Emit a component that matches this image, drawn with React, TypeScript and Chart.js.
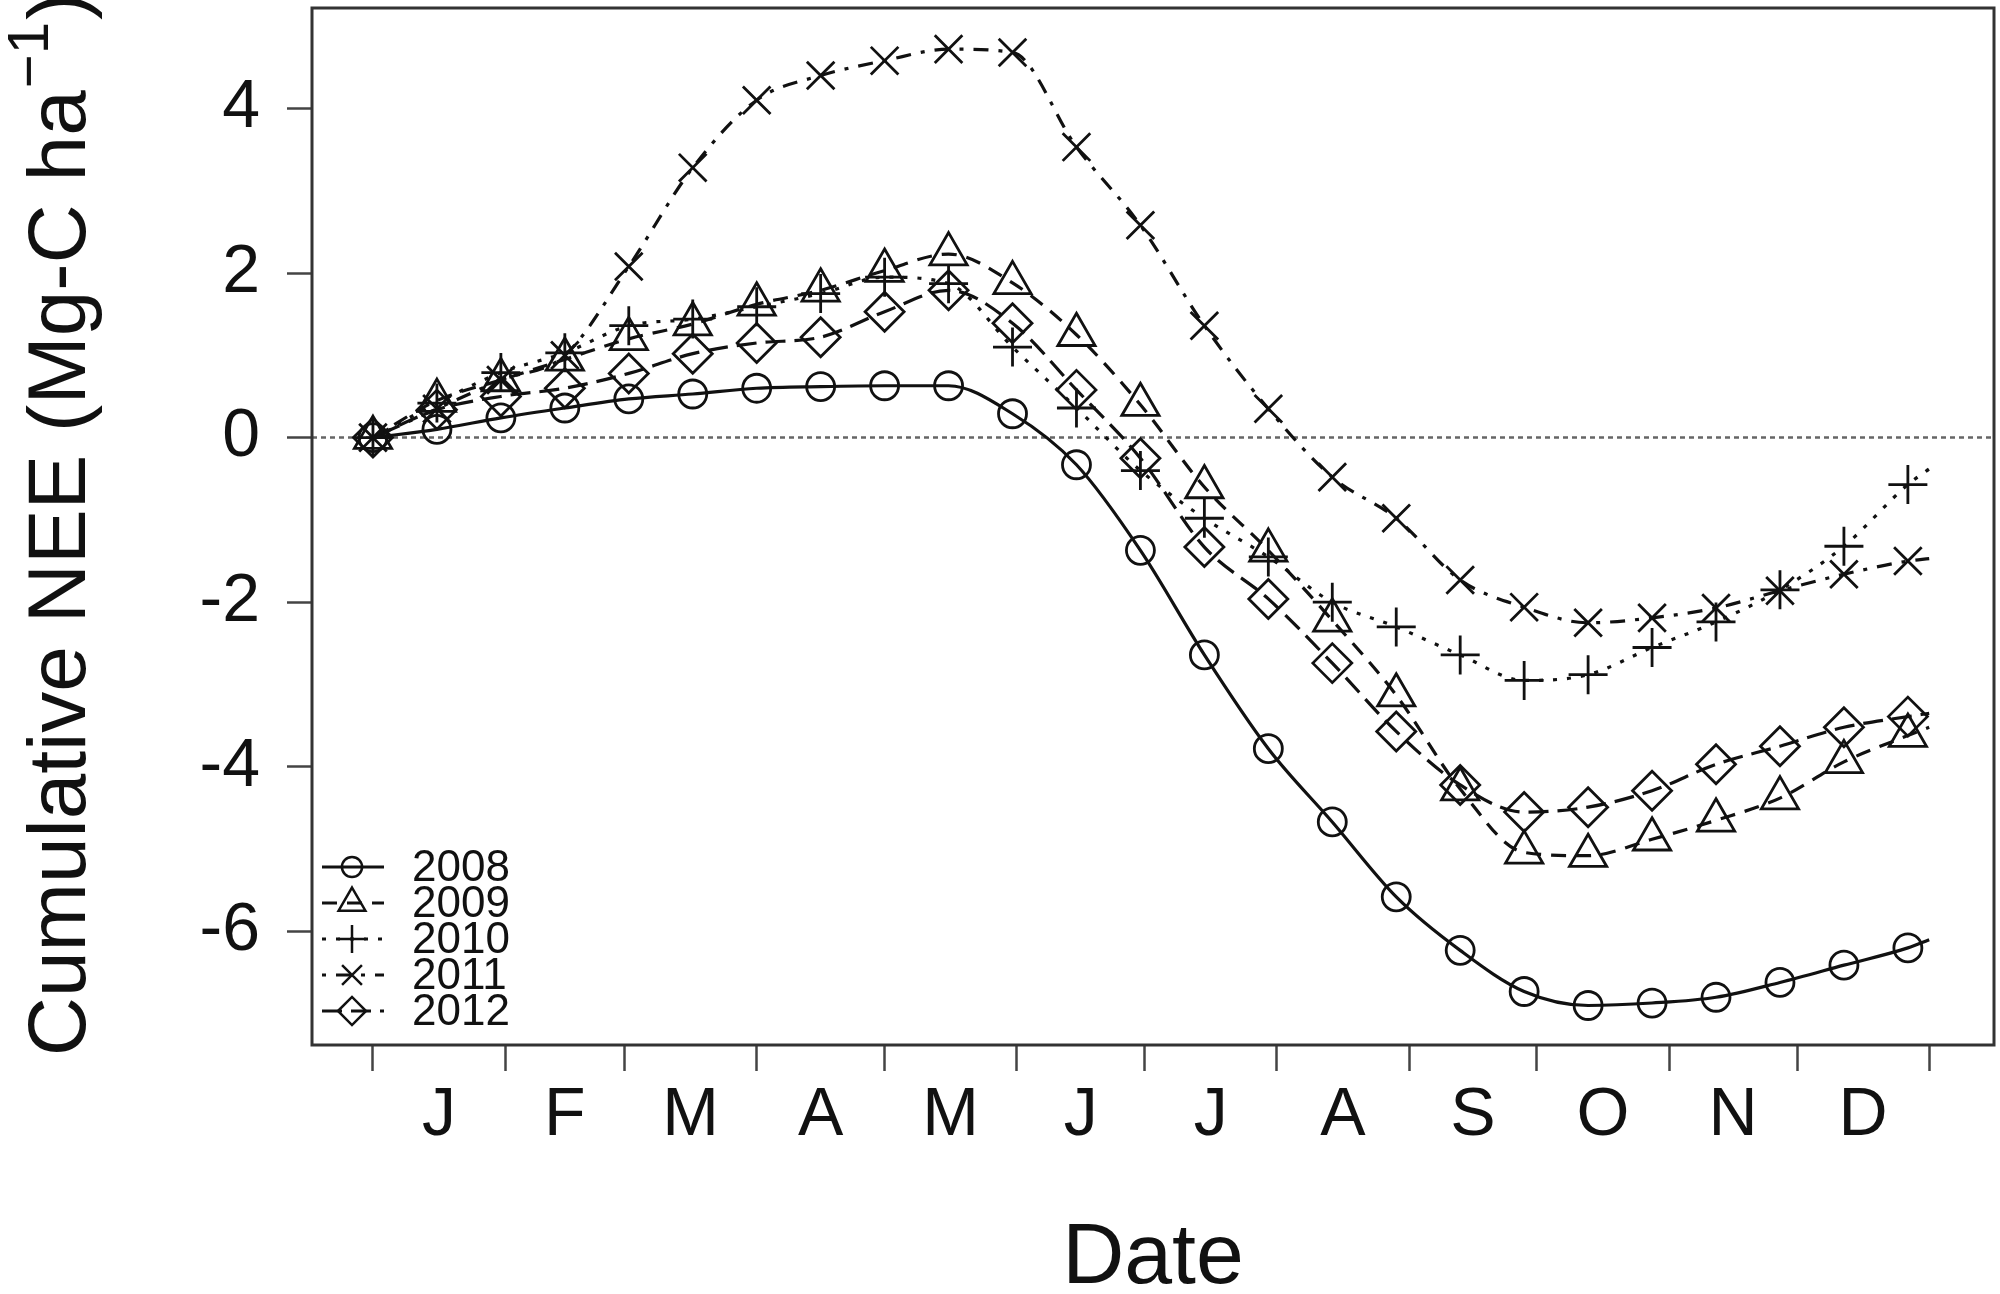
import React, { useEffect, useRef } from 'react';
import { Chart, registerables } from 'chart.js';
import { drawPoint } from 'chart.js/helpers';

Chart.register(...registerables);

const FONT = "'Liberation Sans', Arial, Helvetica, sans-serif";
const INK = '#111';

// day of year for each marker (every 15 days) plus the year end
const days = [0, 15, 30, 45, 60, 75, 90, 105, 120, 135, 150, 165, 180, 195, 210, 225, 240, 255, 270, 285, 300, 315, 330, 345, 360, 365];

const years = ['2008', '2009', '2010', '2011', '2012'];

const nee2008 = [0, 0.1, 0.24, 0.36, 0.47, 0.53, 0.6, 0.62, 0.63, 0.63, 0.29, -0.33, -1.37, -2.64, -3.78, -4.67, -5.58, -6.23, -6.73, -6.9, -6.87, -6.8, -6.62, -6.41, -6.2, -6.1];
const nee2009 = [0, 0.45, 0.7, 0.95, 1.2, 1.38, 1.62, 1.79, 2.03, 2.23, 1.88, 1.25, 0.4, -0.6, -1.37, -2.22, -3.13, -4.27, -5.04, -5.08, -4.88, -4.65, -4.38, -3.94, -3.62, -3.52];
const nee2010 = [0, 0.42, 0.79, 1.03, 1.36, 1.44, 1.59, 1.75, 1.95, 1.87, 1.1, 0.36, -0.4, -0.98, -1.45, -2.0, -2.3, -2.64, -2.95, -2.88, -2.55, -2.24, -1.85, -1.32, -0.57, -0.38];
const nee2011 = [0, 0.35, 0.7, 1.0, 2.08, 3.28, 4.1, 4.4, 4.58, 4.72, 4.68, 3.53, 2.58, 1.36, 0.35, -0.48, -0.98, -1.73, -2.06, -2.25, -2.19, -2.07, -1.86, -1.66, -1.5, -1.47];
const nee2012 = [0, 0.34, 0.5, 0.6, 0.78, 1.02, 1.15, 1.22, 1.53, 1.79, 1.39, 0.58, -0.25, -1.33, -1.96, -2.74, -3.57, -4.22, -4.55, -4.49, -4.29, -3.97, -3.75, -3.52, -3.39, -3.35];

const monthEdges = [0, 31, 59, 90, 120, 151, 181, 212, 243, 273, 304, 334, 365];
const monthMids = [15.5, 45, 74.5, 105, 135.5, 166, 196.5, 227.5, 258, 288.5, 319, 349.5];
const monthLabels = ['J', 'F', 'M', 'A', 'M', 'J', 'J', 'A', 'S', 'O', 'N', 'D'];
const yTicks = [-6, -4, -2, 0, 2, 4];

const series = [nee2008, nee2009, nee2010, nee2011, nee2012];
const markers = ['circle', 'triangle', 'cross', 'crossRot', 'rectRot'];
// R pch sizes: circle r, triangle 1.555r, +/x/diamond 1.414r
const markerSize = [14, 21.5, 19.5, 19.5, 19.5];
const dashes: number[][] = [[], [15, 10], [4, 10], [4, 10, 15, 10], [20, 9]];

// frame around the plot region, like R's box()
const boxPlugin = {
  id: 'box',
  afterDraw(chart: any) {
    const { ctx, chartArea: a } = chart;
    ctx.save();
    ctx.strokeStyle = '#333';
    ctx.lineWidth = 3;
    ctx.strokeRect(a.left, a.top, a.right - a.left, a.bottom - a.top);
    ctx.restore();
  },
};

// dotted reference line at zero
const zeroLine = {
  id: 'zeroLine',
  beforeDatasetsDraw(chart: any) {
    const { ctx, chartArea: a } = chart;
    const y = chart.scales.y.getPixelForValue(0);
    ctx.save();
    ctx.strokeStyle = '#666';
    ctx.lineWidth = 2.5;
    ctx.setLineDash([5, 4]);
    ctx.beginPath();
    ctx.moveTo(a.left, y);
    ctx.lineTo(a.right, y);
    ctx.stroke();
    ctx.restore();
  },
};

// rotated y title with a real superscript
const yTitle = {
  id: 'yTitle',
  afterDraw(chart: any) {
    const { ctx, chartArea: a } = chart;
    const main = 'Cumulative NEE (Mg-C ha';
    const sup = '\u22121';
    const tail = ')';
    ctx.save();
    ctx.translate(62, (a.top + a.bottom) / 2);
    ctx.rotate(-Math.PI / 2);
    ctx.fillStyle = INK;
    ctx.textBaseline = 'middle';
    ctx.textAlign = 'left';
    ctx.font = `82px ${FONT}`;
    const wMain = ctx.measureText(main).width;
    const wTail = ctx.measureText(tail).width;
    ctx.font = `58px ${FONT}`;
    const wSup = ctx.measureText(sup).width;
    let x = -(wMain + wSup + wTail) / 2;
    ctx.font = `82px ${FONT}`;
    ctx.fillText(main, x, 0);
    x += wMain;
    ctx.font = `58px ${FONT}`;
    ctx.fillText(sup, x + 2, -30);
    x += wSup + 4;
    ctx.font = `82px ${FONT}`;
    ctx.fillText(tail, x, 0);
    ctx.restore();
  },
};

// legend in the lower-left corner of the plot
const cornerLegend = {
  id: 'cornerLegend',
  afterDraw(chart: any) {
    const { ctx, chartArea: a } = chart;
    chart.data.datasets.forEach((ds: any, i: number) => {
      const y = a.bottom - 178 + i * 36;
      ctx.save();
      ctx.strokeStyle = INK;
      ctx.lineWidth = 2.8;
      ctx.setLineDash(ds.borderDash || []);
      ctx.beginPath();
      ctx.moveTo(a.left + 10, y);
      ctx.lineTo(a.left + 72, y);
      ctx.stroke();
      ctx.setLineDash([]);
      ctx.fillStyle = 'rgba(0,0,0,0)';
      ctx.lineWidth = 2.5;
      drawPoint(ctx, { pointStyle: ds.pointStyle, radius: markerSize[i] * 0.72, rotation: 0, borderWidth: 2.5 }, a.left + 40, y);
      ctx.fillStyle = INK;
      ctx.font = `44px ${FONT}`;
      ctx.textBaseline = 'middle';
      ctx.fillText(ds.label, a.left + 100, y + 2);
      ctx.restore();
    });
  },
};

const App: React.FC = () => {
  const chartRef = useRef<HTMLCanvasElement>(null);

  useEffect(() => {
    document.body.style.margin = '0';
    if (!chartRef.current) return;
    const ctx = chartRef.current.getContext('2d');
    if (!ctx) return;

    const datasets = series.map((vals, i) => ({
      label: years[i],
      data: days.map((d, j) => ({ x: d, y: vals[j] })),
      borderColor: INK,
      borderWidth: 3.2,
      borderDash: dashes[i],
      backgroundColor: 'rgba(0,0,0,0)',
      pointStyle: markers[i],
      pointRadius: (c: any) => (c.dataIndex === days.length - 1 ? 0 : markerSize[i]),
      pointBorderWidth: 2.8,
      pointBorderColor: INK,
      pointBackgroundColor: 'rgba(0,0,0,0)',
      cubicInterpolationMode: 'monotone' as const,
      fill: false,
    }));

    const myChart = new Chart(ctx, {
      type: 'line',
      data: { datasets },
      options: {
        animation: false,
        responsive: false,
        devicePixelRatio: 1,
        layout: { autoPadding: false, padding: { top: 8, right: 6, left: 0, bottom: 0 } },
        plugins: { legend: { display: false }, tooltip: { enabled: false } },
        scales: {
          x: {
            type: 'linear',
            min: -14.3,
            max: 380.2,
            afterBuildTicks: (s: any) => {
              s.ticks = [...monthEdges, ...monthMids].sort((p, q) => p - q).map((v) => ({ value: v }));
            },
            afterFit: (s: any) => {
              s.height = 249;
              s.paddingLeft = 0;
              s.paddingRight = 0;
            },
            ticks: {
              autoSkip: false,
              maxRotation: 0,
              padding: 4,
              color: INK,
              font: { family: FONT, size: 68 },
              callback: (v: any) => {
                const k = monthMids.indexOf(Number(v));
                return k >= 0 ? monthLabels[k] : '';
              },
            },
            grid: {
              drawOnChartArea: false,
              tickLength: 26,
              tickWidth: 2.5,
              tickColor: (c: any) => (monthEdges.includes(c.tick?.value) ? '#444' : 'rgba(0,0,0,0)'),
            },
            border: { display: false },
            title: {
              display: true,
              text: 'Date',
              color: INK,
              font: { family: FONT, size: 86, lineHeight: 0.8 },
              padding: { top: 0, bottom: 0 },
            },
          },
          y: {
            min: -7.38,
            max: 5.22,
            afterBuildTicks: (s: any) => {
              s.ticks = yTicks.map((v) => ({ value: v }));
            },
            afterFit: (s: any) => {
              s.width = 312;
              s.paddingTop = 0;
              s.paddingBottom = 0;
            },
            ticks: {
              padding: 27,
              color: INK,
              font: { family: FONT, size: 68 },
            },
            grid: {
              drawOnChartArea: false,
              tickLength: 25,
              tickWidth: 2.5,
              tickColor: '#444',
            },
            border: { display: false },
          },
        },
      },
      plugins: [zeroLine, boxPlugin, yTitle, cornerLegend],
    });

    return () => {
      myChart.destroy();
    };
  }, []);

  return (
    <div style={{ width: 2000, height: 1294, background: '#fff' }}>
      <canvas ref={chartRef} width={2000} height={1294} />
    </div>
  );
};

export default App;
